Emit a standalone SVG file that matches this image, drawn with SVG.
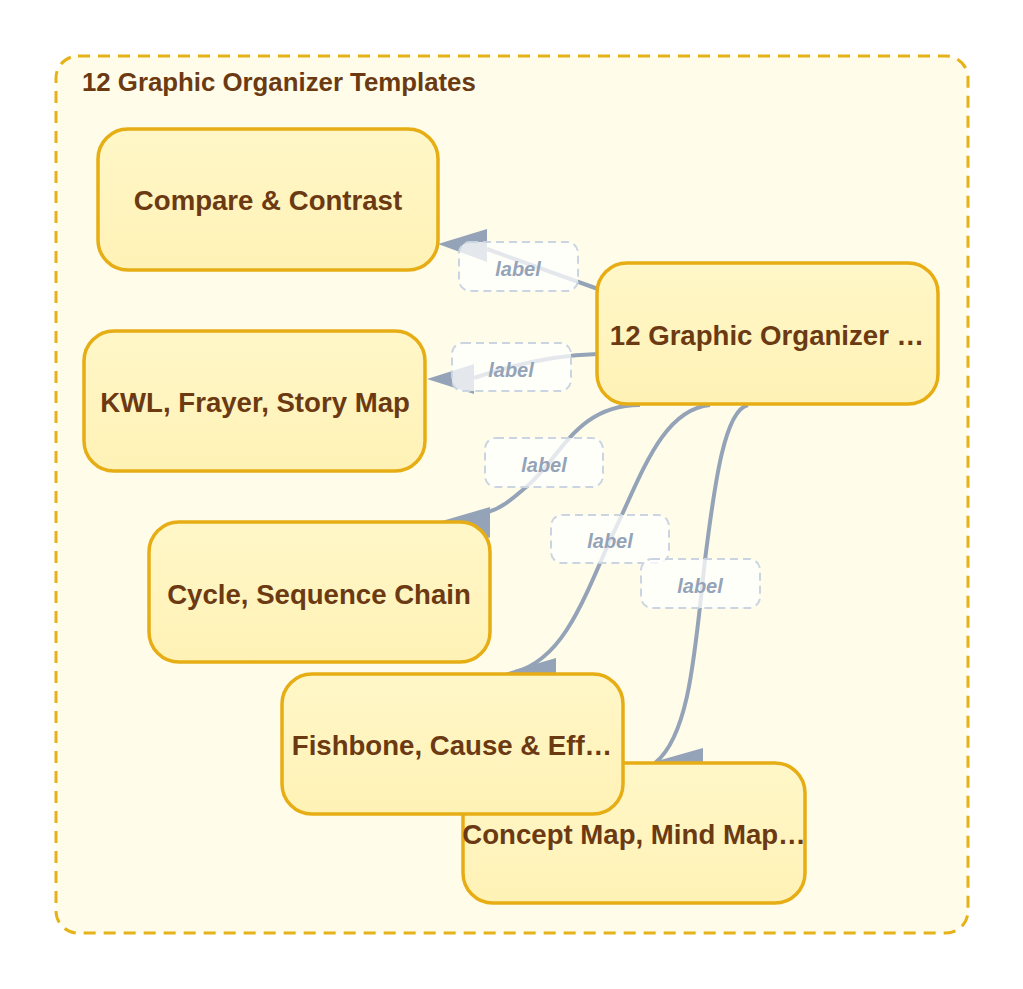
<svg xmlns="http://www.w3.org/2000/svg" width="1023" height="989" viewBox="0 0 1023 989">
<defs>
<linearGradient id="nodeFill" x1="0" y1="0" x2="0" y2="1">
<stop offset="0" stop-color="#fff7c8"/>
<stop offset="1" stop-color="#fff2b6"/>
</linearGradient>
<style>
.cluster{fill:#fffde9;stroke:#e6b219;stroke-width:3;stroke-dasharray:12 8}
.title{font-family:"Liberation Sans",Arial,sans-serif;font-weight:bold;font-size:25.8px;fill:#6b3a12}
.node rect{fill:url(#nodeFill);stroke:#e6ad14;stroke-width:3.5}
.node text{font-family:"Liberation Sans",Arial,sans-serif;font-weight:bold;font-size:27.6px;fill:#6b3a12;text-anchor:middle}
.edge{fill:none;stroke:#94a3b8;stroke-width:4}
.head{fill:#94a3b8}
.lbl rect{fill:#ffffff;fill-opacity:0.75;stroke:#cbd5e1;stroke-width:2;stroke-dasharray:8 5}
.lbl text{font-family:"Liberation Sans",Arial,sans-serif;font-weight:bold;font-style:italic;font-size:20px;fill:#94a3b8;text-anchor:middle}
</style>
</defs>
<rect width="1023" height="989" fill="#ffffff"/>
<g id="cluster">
<rect class="cluster" x="56" y="56" width="912" height="877" rx="22"/>
<text class="title" x="82" y="91">12 Graphic Organizer Templates</text>
</g>
<g id="connectors">
<path class="edge" d="M 598 289 Q 540 268 487 249"/>
<polygon class="head" points="438,244 487,229 487,262"/>
<path class="edge" d="M 598 354 C 560 355 520 362 474 378"/>
<polygon class="head" points="427,379 474,364 474,394"/>
<path class="edge" d="M 640 405 C 575 405 560 460 525 488 C 512 499 502 508 488 512"/>
<polygon class="head" points="442,521 490,507 490,538"/>
<path class="edge" d="M 710 405 C 660 410 640 480 610 540 C 580 610 560 660 515 672"/>
<polygon class="head" points="505,673 556,658 556,688"/>
<path class="edge" d="M 748 405 C 725 410 715 480 705 560 C 695 650 690 735 655 763"/>
<polygon class="head" points="650,763 703,748 703,778"/>
<g class="lbl" id="label1"><rect x="459" y="242" width="119" height="49" rx="11"/><text x="518" y="276">label</text></g>
<g class="lbl" id="label2"><rect x="452" y="343" width="119" height="48" rx="11"/><text x="511" y="377">label</text></g>
<g class="lbl" id="label3"><rect x="485" y="438" width="118" height="49" rx="11"/><text x="544" y="472">label</text></g>
<g class="lbl" id="label4"><rect x="551" y="515" width="118" height="48" rx="11"/><text x="610" y="548">label</text></g>
<g class="lbl" id="label5"><rect x="641" y="559" width="119" height="49" rx="11"/><text x="700" y="593">label</text></g>
</g>
<g id="node-compare" class="node"><rect x="98" y="129" width="340" height="141" rx="30"/><text x="268" y="210">Compare &amp; Contrast</text></g>
<g id="node-kwl" class="node"><rect x="84" y="331" width="341" height="140" rx="30"/><text x="255" y="412">KWL, Frayer, Story Map</text></g>
<g id="node-cycle" class="node"><rect x="149" y="522" width="341" height="140" rx="30"/><text x="319" y="604">Cycle, Sequence Chain</text></g>
<g id="node-root" class="node"><rect x="597" y="263" width="341" height="141" rx="30"/><text x="767" y="345">12 Graphic Organizer …</text></g>
<g id="node-concept" class="node"><rect x="463" y="763" width="342" height="140" rx="30"/><text x="634" y="844">Concept Map, Mind Map…</text></g>
<g id="node-fishbone" class="node"><rect x="282" y="674" width="341" height="140" rx="30"/><text x="452" y="755">Fishbone, Cause &amp; Eff…</text></g>
</svg>
